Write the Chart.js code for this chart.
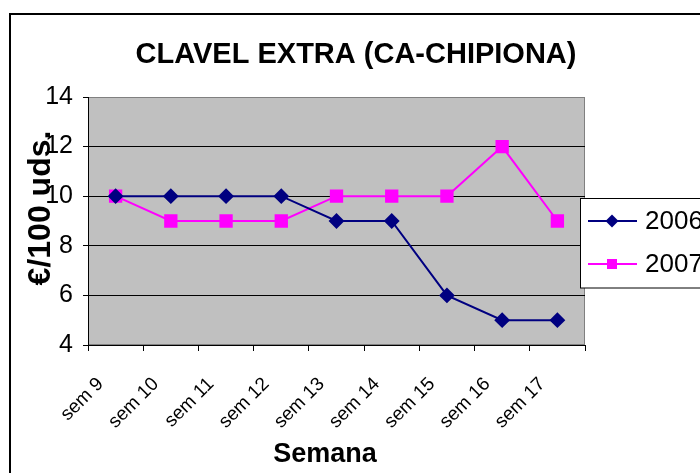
<!DOCTYPE html>
<html>
<head>
<meta charset="utf-8">
<script src="https://cdn.jsdelivr.net/npm/chart.js@4.4.0/dist/chart.umd.min.js"></script>
<style>
  html, body { margin: 0; padding: 0; background: #fff; }
  #wrap { width: 700px; height: 473px; }
</style>
</head>
<body>
<div id="wrap"><canvas id="clavelChart" width="700" height="473"></canvas></div>
<script>
// weeks and prices (euros per 100 units)
var semanas = ['sem 9', 'sem 10', 'sem 11', 'sem 12', 'sem 13', 'sem 14', 'sem 15', 'sem 16', 'sem 17'];
var precios2006 = [10, 10, 10, 10, 9, 9, 6, 5, 5];
var precios2007 = [10, 9, 9, 9, 10, 10, 10, 12, 9];
var yTicks = [4, 6, 8, 10, 12, 14];

var FONT = "'Liberation Sans', Arial, sans-serif";

// background, frame, titles and the boxed legend (Excel style)
var excelLook = {
  id: 'excelLook',
  beforeDraw: function(chart) {
    var ctx = chart.ctx, a = chart.chartArea;
    ctx.save();
    ctx.fillStyle = '#fff';
    ctx.fillRect(0, 0, chart.width, chart.height);
    ctx.fillStyle = '#c0c0c0';
    ctx.fillRect(a.left, a.top, a.right - a.left, a.bottom - a.top);
    ctx.strokeStyle = '#808080';
    ctx.lineWidth = 1;
    ctx.strokeRect(a.left + 0.5, a.top + 0.5, a.right - a.left - 1, a.bottom - a.top - 1);
    // outer chart border (runs off the right and bottom)
    ctx.strokeStyle = '#000';
    ctx.lineWidth = 2;
    ctx.beginPath();
    ctx.moveTo(10, chart.height + 5);
    ctx.lineTo(10, 14);
    ctx.lineTo(chart.width + 5, 14);
    ctx.stroke();
    ctx.restore();
  },
  afterDraw: function(chart) {
    var ctx = chart.ctx;
    ctx.save();
    ctx.fillStyle = '#000';
    ctx.textAlign = 'center';
    ctx.textBaseline = 'alphabetic';
    ctx.font = 'bold 29px ' + FONT;
    ctx.fillText('CLAVEL EXTRA (CA-CHIPIONA)', 356, 63);
    ctx.font = 'bold 27px ' + FONT;
    ctx.fillText('Semana', 325, 462);
    ctx.save();
    ctx.translate(50, 208);
    ctx.rotate(-Math.PI / 2);
    ctx.font = 'bold 32px ' + FONT;
    ctx.fillText('€/100 uds.', 0, 0);
    ctx.restore();

    // legend box
    ctx.fillStyle = '#fff';
    ctx.fillRect(580, 198, 130, 90);
    ctx.strokeStyle = '#000';
    ctx.lineWidth = 1;
    ctx.strokeRect(580.5, 198.5, 130, 89.5);
    var rows = [221, 264];
    chart.data.datasets.forEach(function(ds, i) {
      var y = rows[i];
      ctx.strokeStyle = ds.borderColor;
      ctx.lineWidth = 2;
      ctx.beginPath();
      ctx.moveTo(588, y);
      ctx.lineTo(637, y);
      ctx.stroke();
      ctx.fillStyle = ds.pointBackgroundColor;
      ctx.beginPath();
      if (ds.pointStyle === 'rectRot') {
        ctx.moveTo(612, y - 6.5);
        ctx.lineTo(618.5, y);
        ctx.lineTo(612, y + 6.5);
        ctx.lineTo(605.5, y);
        ctx.closePath();
      } else {
        ctx.rect(607, y - 5, 10, 10);
      }
      ctx.fill();
      ctx.fillStyle = '#000';
      ctx.textAlign = 'left';
      ctx.textBaseline = 'middle';
      ctx.font = '26px ' + FONT;
      ctx.fillText(ds.label, 645, y + 1);
    });
    ctx.restore();
  }
};

var ctx = document.getElementById('clavelChart').getContext('2d');
var clavelChart = new Chart(ctx, {
  type: 'line',
  data: {
    labels: semanas,
    datasets: [{
      label: '2006',
      data: precios2006,
      borderColor: '#000080',
      backgroundColor: '#000080',
      pointBackgroundColor: '#000080',
      pointBorderColor: '#000080',
      pointStyle: 'rectRot',
      pointRadius: 6.5,
      borderWidth: 2,
      tension: 0
    }, {
      label: '2007',
      data: precios2007,
      borderColor: '#ff00ff',
      backgroundColor: '#ff00ff',
      pointBackgroundColor: '#ff00ff',
      pointBorderColor: '#ff00ff',
      pointStyle: 'rect',
      pointRadius: 8,
      borderWidth: 2,
      tension: 0
    }]
  },
  options: {
    responsive: false,
    animation: false,
    layout: { padding: { left: 0, right: 115, top: 97, bottom: 0 } },
    scales: {
      x: {
        offset: true,
        grid: {
          offset: true,
          drawOnChartArea: false,
          drawTicks: true,
          tickLength: 6,
          tickColor: '#000'
        },
        border: { color: '#000', width: 1 },
        ticks: {
          color: '#000',
          font: { family: FONT, size: 19 },
          maxRotation: 45,
          minRotation: 45,
          padding: 22,
          labelOffset: -15,
          autoSkip: false
        },
        afterFit: function(scale) { scale.height = 128; }
      },
      y: {
        min: yTicks[0],
        max: yTicks[yTicks.length - 1],
        grid: {
          color: function(c) { return c.tick && c.tick.value === 14 ? '#808080' : '#000'; },
          tickColor: '#000',
          tickLength: 5,
          lineWidth: 1
        },
        border: { color: '#000', width: 1 },
        ticks: {
          stepSize: 2,
          color: '#000',
          padding: 10,
          font: { family: FONT, size: 25 }
        },
        afterFit: function(scale) { scale.width = 88; }
      }
    },
    plugins: {
      legend: { display: false },
      title: { display: false },
      tooltip: { enabled: false }
    }
  },
  plugins: [excelLook]
});
</script>
</body>
</html>
